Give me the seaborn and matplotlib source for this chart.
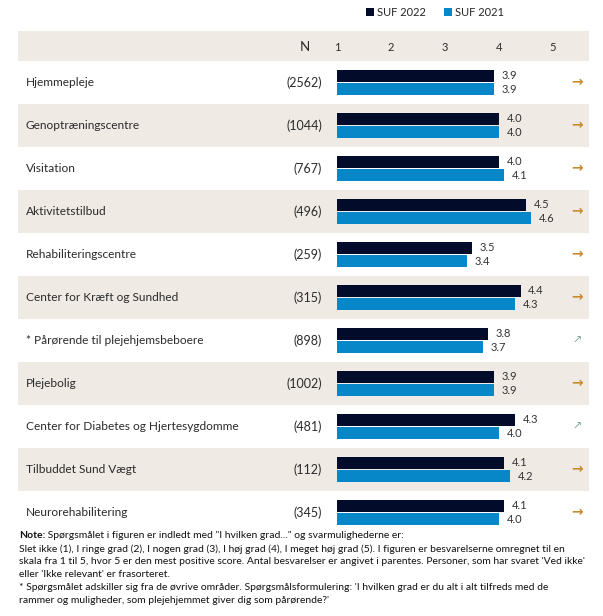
import pandas as pd
import matplotlib.pyplot as plt
import seaborn as sns
from matplotlib.patches import Rectangle

omraader = ["Hjemmepleje", "Genoptræningscentre", "Visitation", "Aktivitetstilbud",
            "Rehabiliteringscentre", "Center for Kræft og Sundhed",
            "* Pårørende til plejehjemsbeboere", "Plejebolig",
            "Center for Diabetes og Hjertesygdomme", "Tilbuddet Sund Vægt",
            "Neurorehabilitering"]
antal = [2562, 1044, 767, 496, 259, 315, 898, 1002, 481, 112, 345]
suf_2022 = [3.9, 4.0, 4.0, 4.5, 3.5, 4.4, 3.8, 3.9, 4.3, 4.1, 4.1]
suf_2021 = [3.9, 4.0, 4.1, 4.6, 3.4, 4.3, 3.7, 3.9, 4.0, 4.2, 4.0]
udvikling = ["→", "→", "→", "→", "→", "→", "↗", "→", "↗", "→", "→"]
aar = ["SUF 2022", "SUF 2021"]
skala = [1, 2, 3, 4, 5]

note_lines = [
    "Slet ikke (1), I ringe grad (2), I nogen grad (3), I høj grad (4), I meget høj grad (5). I figuren er besvarelserne omregnet til en",
    "skala fra 1 til 5, hvor 5 er den mest positive score. Antal besvarelser er angivet i parentes. Personer, som har svaret 'Ved ikke'",
    "eller 'Ikke relevant' er frasorteret.",
    "* Spørgsmålet adskiller sig fra de øvrive områder. Spørgsmålsformulering: 'I hvilken grad er du alt i alt tilfreds med de",
    "rammer og muligheder, som plejehjemmet giver dig som pårørende?'",
]

df = pd.DataFrame({
    "omraade": omraader * 2,
    "score": suf_2022 + suf_2021,
    "aar": [aar[0]] * len(omraader) + [aar[1]] * len(omraader),
})

navy = "#030b2b"
blaa = "#0786c8"
beige = "#efebe4"
tekst = "#2b2b2b"

sns.set_theme(style="white")
plt.rcParams["font.family"] = ["Lato", "DejaVu Sans"]

W, H = 603, 616
fig = plt.figure(figsize=(W / 100, H / 100), dpi=100)

# baggrund i pixel-koordinater
bg = fig.add_axes([0, 0, 1, 1])
bg.set_xlim(0, W)
bg.set_ylim(H, 0)
bg.axis("off")

top, row_h, x0, x1 = 61, 43, 18, 589
bg.add_patch(Rectangle((x0, 31), x1 - x0, top - 31, color=beige, lw=0))
for i in range(len(omraader)):
    if i % 2 == 1:
        bg.add_patch(Rectangle((x0, top + i * row_h), x1 - x0, row_h, color=beige, lw=0))

bg.text(305, 47, "N", ha="center", va="center", fontsize=9.5, color=tekst)
for i, (navn, n, pil) in enumerate(zip(omraader, antal, udvikling)):
    yc = top + i * row_h + row_h / 2
    bg.text(26, yc, navn, ha="left", va="center", fontsize=8.6, color=tekst)
    bg.text(322, yc, f"({n})", ha="right", va="center", fontsize=9, color=tekst)
    if pil == "→":
        bg.text(577, yc, pil, ha="center", va="center", fontsize=10, fontweight="bold",
                color="#c98a2e", family="DejaVu Sans")
    else:
        bg.text(577, yc, pil, ha="center", va="center", fontsize=8,
                color="#7fa89a", family="DejaVu Sans")

# barer
px_unit = 54
ax = fig.add_axes([337 / W, (H - (top + row_h * len(omraader))) / H,
                   (x1 - 337) / W, row_h * len(omraader) / H])
ax.patch.set_alpha(0)
sns.barplot(data=df, x="score", y="omraade", hue="aar", palette=[navy, blaa],
            saturation=1, width=0.64, gap=0.12, linewidth=0, ax=ax, orient="h")
ax.set_xlim(1, 1 + (x1 - 337) / px_unit)
ax.set_ylim(len(omraader) - 0.5, -0.5)
for c in ax.containers:
    ax.bar_label(c, fmt="%.1f", padding=5.5, fontsize=8, color="#333333")
ax.set_xticks(skala)
ax.set_xticklabels([str(s) for s in skala])
ax.xaxis.tick_top()
ax.tick_params(axis="x", length=0, pad=6, labelsize=8, labelcolor=tekst)
ax.set_yticks([])
ax.set_xlabel("")
ax.set_ylabel("")
for s in ax.spines.values():
    s.set_visible(False)

sns.move_legend(ax, "center", bbox_to_anchor=(435 / W, 1 - 12 / H),
                bbox_transform=fig.transFigure, ncol=2, frameon=False, title=None,
                fontsize=8, handlelength=0.7, handleheight=0.7, handletextpad=0.3,
                columnspacing=1.6)

# note
nfs = 7.45
t_note = bg.text(19, 536, "Note:", ha="left", va="center", fontsize=nfs,
                 fontweight="bold", color="#111111")
bg.annotate(" Spørgsmålet i figuren er indledt med \"I hvilken grad...\" og svarmulighederne er:",
            xy=(1, 0.5), xycoords=t_note, ha="left", va="center", fontsize=nfs, color="#111111")
for k, linje in enumerate(note_lines):
    bg.text(19, 549 + k * 12.8, linje, ha="left", va="center", fontsize=nfs, color="#111111")

fig.savefig("out.png", dpi=100)
